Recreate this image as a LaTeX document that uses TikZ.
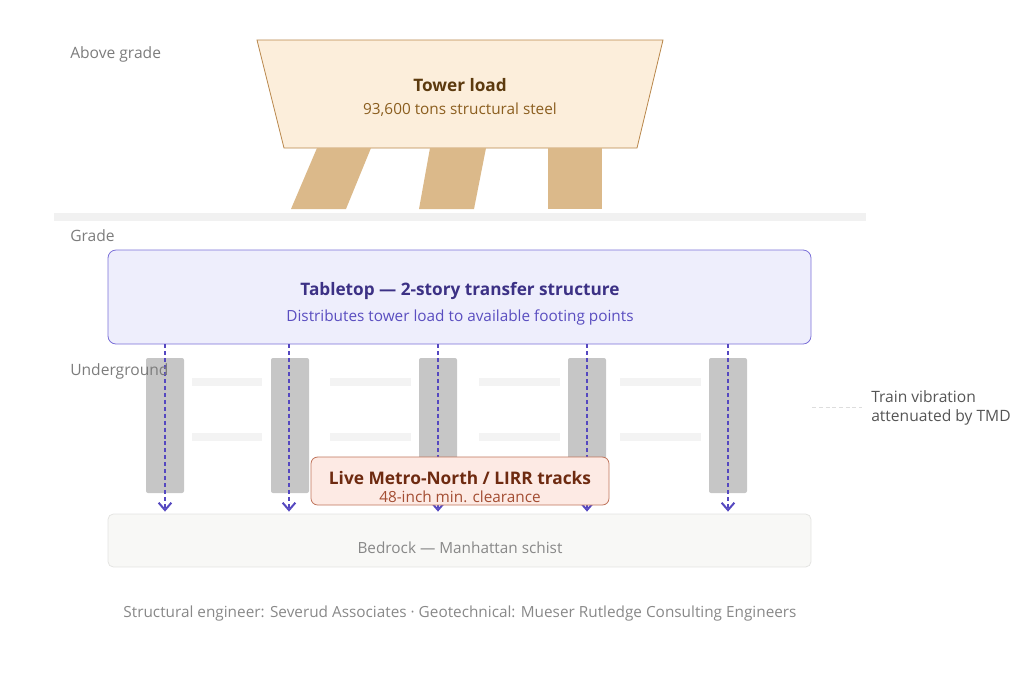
\documentclass[tikz,border=0pt]{standalone}
\usepackage{fontspec}
\setmainfont{Open Sans}
\usetikzlibrary{arrows.meta}
\definecolor{labelgray}{HTML}{7C7C7C}
\definecolor{towerfill}{HTML}{FCEEDB}
\definecolor{towerdraw}{HTML}{B8864A}
\definecolor{towertitle}{HTML}{5C3A0E}
\definecolor{towersub}{HTML}{8B5E1F}
\definecolor{legtan}{HTML}{DBB98A}
\definecolor{gradegray}{HTML}{F1F1F1}
\definecolor{tabfill}{HTML}{EEEEFC}
\definecolor{tabdraw}{HTML}{7B70D8}
\definecolor{tabtitle}{HTML}{3C3185}
\definecolor{tabsub}{HTML}{5A4EC0}
\definecolor{colgray}{HTML}{C6C6C6}
\definecolor{tiegray}{HTML}{F3F3F3}
\definecolor{loadviolet}{HTML}{5548C0}
\definecolor{tracksfill}{HTML}{FDEAE4}
\definecolor{tracksdraw}{HTML}{BF735A}
\definecolor{trackstitle}{HTML}{6E2A10}
\definecolor{trackssub}{HTML}{A34D32}
\definecolor{bedfill}{HTML}{F8F8F6}
\definecolor{beddraw}{HTML}{E4E4E2}
\definecolor{bedtext}{HTML}{888888}
\definecolor{notegray}{HTML}{555555}
\definecolor{notedash}{HTML}{DDDDDD}
\begin{document}
\begin{tikzpicture}[x=0.75pt,y=-0.75pt,
  zone/.style={anchor=west, inner sep=0pt, text=labelgray, font=\fontsize{11.7}{13}\selectfont},
  title/.style={inner sep=0pt, font=\fontsize{12.9}{15}\selectfont\bfseries},
  sub/.style={inner sep=0pt, font=\fontsize{11.5}{13}\selectfont},
  leg/.style={fill=legtan},
  column/.style={fill=colgray, rounded corners=1.5pt},
  tie/.style={fill=tiegray},
  load/.style={draw=loadviolet, line width=1.25pt, dash pattern=on 3pt off 2.2pt,
    -{Straight Barb[length=5.5pt,width=9.5pt,line width=1.5pt]}, shorten >=1.5pt}]
\useasboundingbox (0,0) rectangle (1024,676);
% tower and legs
\draw[fill=towerfill, draw=towerdraw, line width=0.6pt] (257,40) -- (663,40) -- (637,148) -- (284,148) -- cycle;
\node[title, text=towertitle] (towert) at (460,85.5) {Tower load};
\node[sub, text=towersub] (towers) at (460,109.5) {93,600 tons structural steel};
\fill[leg] (317,148) -- (371,148) -- (346,209) -- (291,209) -- cycle;
\fill[leg] (430,148) -- (486,148) -- (474,209) -- (419,209) -- cycle;
\fill[leg] (548,148) rectangle (602,209);
% grade line
\fill[gradegray] (54,213) rectangle (866,221);
% tabletop
\node[draw=tabdraw, fill=tabfill, line width=0.6pt, rounded corners=6pt,
  minimum width=527.25pt, minimum height=70.5pt] (tab) at (459.5,297) {};
\node[title, text=tabtitle] (tabt) at (460,291) {Tabletop — 2-story transfer structure};
\node[sub, text=tabsub] (tabs) at (460,317) {Distributes tower load to available footing points};
% bedrock
\node[draw=beddraw, fill=bedfill, line width=0.6pt, rounded corners=4pt,
  minimum width=527.25pt, minimum height=39.75pt] (bed) at (459.5,540.5) {};
\node[sub, text=bedtext] (bedt) at (460,548) {Bedrock — Manhattan schist};
% columns and ties
\foreach \x in {146,271,419,568,709}
  \fill[column] (\x,358) rectangle ++(38,135);
\foreach \a/\b in {192/262,330/411,479/560,620/701} {
  \fill[tie] (\a,378) rectangle (\b,386);
  \fill[tie] (\a,433) rectangle (\b,441);
}
% load paths
\foreach \x [count=\i] in {165,289,438,587,728} {
  \coordinate (p\i) at (\x,0);
  \draw[load] (tab.south -| p\i) -- (bed.north -| p\i);
}
% tracks
\node[draw=tracksdraw, fill=tracksfill, line width=0.6pt, rounded corners=5pt,
  minimum width=223.5pt, minimum height=36pt] (tracks) at (460,481) {};
\node[inner sep=0pt, font=\fontsize{13}{15}\selectfont\bfseries, text=trackstitle] (trackst) at (460,478) {Live Metro-North / LIRR tracks};
\node[sub, text=trackssub] (trackss) at (460,497) {48-inch min. clearance};
% zone labels
\node[zone] (above) at (70,54) {Above grade};
\node[zone] (grade) at (70,236) {Grade};
\node[zone] (under) at (70,371) {Underground};
% vibration note
\node[anchor=west, inner sep=0pt, align=left, text=notegray,
  font=\fontsize{11.7}{14.25}\selectfont] (note) at (871,407.5) {Train vibration\\attenuated by TMD};
\draw[notedash, line width=0.6pt, dash pattern=on 3pt off 2pt, shorten <=0.75pt, shorten >=6.75pt]
  (note.west -| bed.east) -- (note.west);
% caption
\node[sub, text=bedtext] (credit) at (460,614) {Structural engineer: Severud Associates · Geotechnical: Mueser Rutledge Consulting Engineers};
\end{tikzpicture}
\end{document}
